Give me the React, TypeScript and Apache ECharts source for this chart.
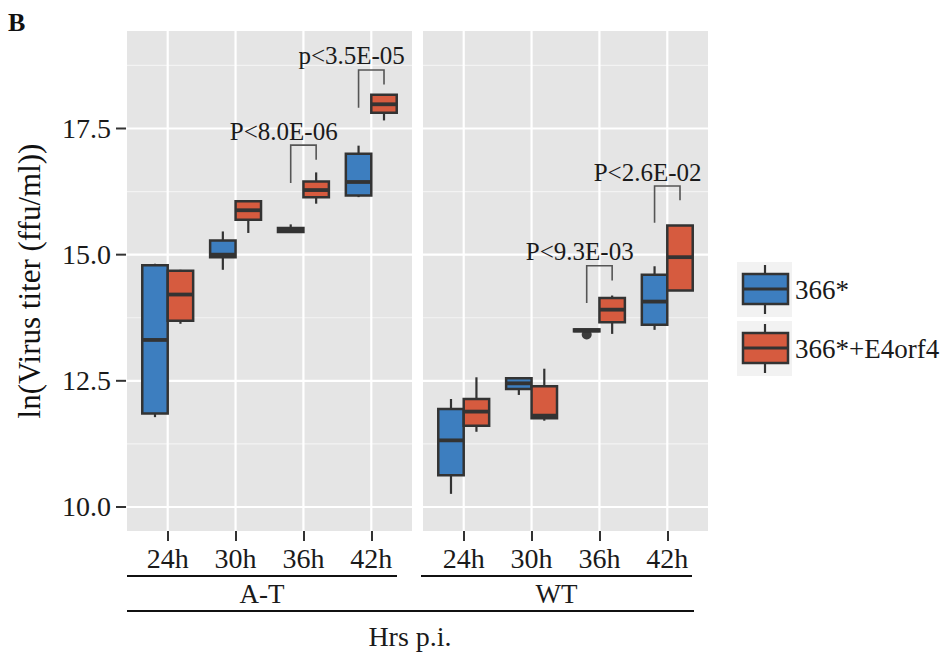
import React, { useEffect, useRef } from 'react';
import * as echarts from 'echarts';

const FONT = '"Liberation Serif", "Times New Roman", Times, serif';

const timePoints = ['24h', '30h', '36h', '42h'];
const panelNames = ['A-T', 'WT'];
const groupNames = ['366*', '366*+E4orf4'];
const groupColors = ['#3D7EBF', '#D65B3F'];
const yTickValues = [10, 12.5, 15, 17.5];
const yMinorGridValues = [11.25, 13.75, 16.25, 18.75];
const xAxisTitle = 'Hrs p.i.';
const yAxisTitle = 'ln(Virus titer (ffu/ml))';
const figureTag = 'B';

// box stats: [low whisker, Q1, median, Q3, high whisker]
const atMutant = [
  [11.78, 11.85, 13.31, 14.79, 14.82],
  [14.70, 14.95, 15.00, 15.28, 15.46],
  [15.43, 15.45, 15.49, 15.53, 15.60],
  [16.14, 16.17, 16.44, 17.00, 17.16],
];
const atE4orf4 = [
  [13.63, 13.69, 14.21, 14.68, 14.70],
  [15.43, 15.69, 15.88, 16.06, 16.06],
  [16.01, 16.14, 16.28, 16.45, 16.63],
  [17.66, 17.81, 17.98, 18.17, 18.17],
];
const wtMutant = [
  [10.26, 10.63, 11.32, 11.94, 12.14],
  [12.22, 12.34, 12.45, 12.55, 12.55],
  [13.48, 13.48, 13.50, 13.52, 13.52],
  [13.51, 13.61, 14.07, 14.60, 14.77],
];
const wtE4orf4 = [
  [11.49, 11.61, 11.89, 12.14, 12.57],
  [11.71, 11.76, 11.81, 12.39, 12.74],
  [13.43, 13.66, 13.91, 14.14, 14.19],
  [14.29, 14.29, 14.95, 15.58, 15.58],
];
// outliers: [time index, value]
const wtMutantOutliers = [[2, 13.42]];
const atMutantOutliers: number[][] = [];

// significance brackets: [time index, bracket top, left leg bottom, right leg bottom]
const atBrackets = [
  [2, 17.17, 16.42, 16.88],
  [3, 18.66, 17.91, 18.37],
];
const atBracketLabels = ['P<8.0E-06', 'p<3.5E-05'];
const wtBrackets = [
  [2, 14.78, 14.04, 14.49],
  [3, 16.36, 15.63, 16.08],
];
const wtBracketLabels = ['P<9.3E-03', 'P<2.6E-02'];

const panelBoxes = [
  [atMutant, atE4orf4],
  [wtMutant, wtE4orf4],
];
const panelOutliers = [atMutantOutliers, wtMutantOutliers];
const panelBrackets = [atBrackets, wtBrackets];
const panelBracketLabels = [atBracketLabels, wtBracketLabels];

const DODGE = 0.1875;
const HALF = 0.1875;
const Y_MIN = 9.524;
const Y_MAX = 19.432;

function buildOption() {
  const grids = [
    { left: 127, top: 31, width: 285, height: 500 },
    { left: 423, top: 31, width: 285, height: 500 },
  ].map((g) => ({ ...g, show: true, backgroundColor: '#E5E5E5', borderWidth: 0 }));

  const xAxes = panelNames.map((_, p) => ({
    type: 'value',
    gridIndex: p,
    min: -0.6,
    max: 3.6,
    axisLine: { show: false, onZero: false },
    splitLine: { show: false },
    axisTick: {
      show: true,
      customValues: timePoints.map((_, i) => i),
      length: 10,
      lineStyle: { color: '#333', width: 2 },
    },
    axisLabel: {
      show: true,
      customValues: timePoints.map((_, i) => i),
      formatter: (v: number) => timePoints[Math.round(v)] ?? '',
      margin: 13,
      fontSize: 28,
      fontFamily: FONT,
      color: '#1a1a1a',
    },
  }));

  const yAxes = panelNames.map((_, p) => ({
    type: 'value',
    gridIndex: p,
    min: Y_MIN,
    max: Y_MAX,
    axisLine: { show: false, onZero: false },
    splitLine: { show: false },
    axisTick: { show: false },
    axisLabel: {
      show: p === 0,
      customValues: yTickValues,
      formatter: (v: number) => v.toFixed(1),
      margin: 16,
      fontSize: 28,
      fontFamily: FONT,
      color: '#1a1a1a',
    },
    name: p === 0 ? yAxisTitle : '',
    nameLocation: 'middle',
    nameGap: 82,
    nameTextStyle: { fontSize: 31, fontFamily: FONT, color: '#111' },
  }));

  const series: any[] = [];
  panelNames.forEach((_, p) => {
    // kinds: 0 major horizontal grid, 1 minor horizontal grid, 2 vertical grid, 3 y-axis tick mark
    const gridData = [
      ...yTickValues.map((v) => [0, v, 0]),
      ...yMinorGridValues.map((v) => [0, v, 1]),
      ...timePoints.map((_, i) => [i, 10, 2]),
      ...(p === 0 ? yTickValues.map((v) => [0, v, 3]) : []),
    ];
    series.push({
      type: 'custom',
      xAxisIndex: p,
      yAxisIndex: p,
      z: 1,
      silent: true,
      clip: false,
      data: gridData,
      encode: { x: 0, y: 1 },
      renderItem: (params: any, api: any) => {
        const kind = api.value(2);
        const cs = params.coordSys;
        if (kind === 2) {
          const px = api.coord([api.value(0), 10])[0];
          return {
            type: 'line',
            shape: { x1: px, y1: cs.y, x2: px, y2: cs.y + cs.height },
            style: { stroke: '#FFFFFF', lineWidth: 2.2 },
          };
        }
        const py = api.coord([0, api.value(1)])[1];
        if (kind === 3) {
          return {
            type: 'line',
            shape: { x1: cs.x - 11, y1: py, x2: cs.x - 1, y2: py },
            style: { stroke: '#333', lineWidth: 2 },
          };
        }
        return {
          type: 'line',
          shape: { x1: cs.x, y1: py, x2: cs.x + cs.width, y2: py },
          style: { stroke: kind === 0 ? '#FFFFFF' : '#F3F3F3', lineWidth: kind === 0 ? 2.2 : 1.2 },
        };
      },
    });

    if (panelOutliers[p].length) {
      series.push({
        type: 'scatter',
        xAxisIndex: p,
        yAxisIndex: p,
        z: 2,
        silent: true,
        symbol: 'circle',
        symbolSize: 10,
        itemStyle: { color: '#111' },
        data: panelOutliers[p].map((d) => [d[0] - DODGE, d[1]]),
      });
    }

    panelBoxes[p].forEach((stats, g) => {
      const dodge = g === 0 ? -DODGE : DODGE;
      const color = groupColors[g];
      series.push({
        type: 'custom',
        name: groupNames[g],
        xAxisIndex: p,
        yAxisIndex: p,
        z: 3,
        silent: true,
        data: stats.map((s, i) => [i, ...s]),
        encode: { x: 0, y: [1, 2, 3, 4, 5] },
        renderItem: (params: any, api: any) => {
          const xc = api.value(0) + dodge;
          const lo = api.value(1);
          const q1 = api.value(2);
          const md = api.value(3);
          const q3 = api.value(4);
          const hi = api.value(5);
          const [xl, yq3] = api.coord([xc - HALF, q3]);
          const [xr, yq1] = api.coord([xc + HALF, q1]);
          const [xm, ymd] = api.coord([xc, md]);
          const yhi = api.coord([xc, hi])[1];
          const ylo = api.coord([xc, lo])[1];
          return {
            type: 'group',
            children: [
              { type: 'line', shape: { x1: xm, y1: yhi, x2: xm, y2: yq3 }, style: { stroke: '#333', lineWidth: 2.2 } },
              { type: 'line', shape: { x1: xm, y1: yq1, x2: xm, y2: ylo }, style: { stroke: '#333', lineWidth: 2.2 } },
              {
                type: 'rect',
                shape: { x: xl, y: yq3, width: xr - xl, height: yq1 - yq3 },
                style: { fill: color, stroke: '#333', lineWidth: 2.5 },
              },
              { type: 'line', shape: { x1: xl, y1: ymd, x2: xr, y2: ymd }, style: { stroke: '#333', lineWidth: 3.8 } },
            ],
          };
        },
      });
    });

    const labels = panelBracketLabels[p];
    series.push({
      type: 'custom',
      xAxisIndex: p,
      yAxisIndex: p,
      z: 4,
      silent: true,
      data: panelBrackets[p],
      encode: { x: 0, y: [1, 2, 3] },
      renderItem: (params: any, api: any) => {
        const xi = api.value(0);
        const top = api.value(1);
        const lb = api.coord([xi - DODGE, api.value(2)]);
        const lt = api.coord([xi - DODGE, top]);
        const rt = api.coord([xi + DODGE, top]);
        const rb = api.coord([xi + DODGE, api.value(3)]);
        const tp = api.coord([xi - 0.29, top]);
        return {
          type: 'group',
          children: [
            {
              type: 'polyline',
              shape: { points: [lb, lt, rt, rb] },
              style: { stroke: '#555', lineWidth: 1.6, fill: 'none' },
            },
            {
              type: 'text',
              x: tp[0],
              y: tp[1] - 14,
              style: {
                text: labels[params.dataIndex],
                fontSize: 25,
                fontFamily: FONT,
                fill: '#1a1a1a',
                align: 'center',
                verticalAlign: 'middle',
              },
            },
          ],
        };
      },
    });
  });

  const legendKeys = groupNames.map((name, g) => {
    const top = 262 + g * 59;
    return {
      type: 'group',
      children: [
        { type: 'rect', shape: { x: 737, y: top, width: 55, height: 55 }, style: { fill: '#F2F2F2' } },
        { type: 'line', shape: { x1: 765, y1: top + 3, x2: 765, y2: top + 52 }, style: { stroke: '#333', lineWidth: 2.2 } },
        {
          type: 'rect',
          shape: { x: 743, y: top + 12, width: 45, height: 30 },
          style: { fill: groupColors[g], stroke: '#333', lineWidth: 2.5 },
        },
        { type: 'line', shape: { x1: 743, y1: top + 27, x2: 788, y2: top + 27 }, style: { stroke: '#333', lineWidth: 3 } },
        {
          type: 'text',
          x: 795,
          y: top + 28,
          style: { text: name, fontSize: 27, fontFamily: FONT, fill: '#1a1a1a', align: 'left', verticalAlign: 'middle' },
        },
      ],
    };
  });

  const stripLines = [
    { x1: 127, x2: 397 },
    { x1: 421, x2: 692 },
  ];
  const panelStrips = panelNames.map((name, p) => ({
    type: 'group',
    children: [
      {
        type: 'line',
        shape: { x1: stripLines[p].x1, y1: 576, x2: stripLines[p].x2, y2: 576 },
        style: { stroke: '#111', lineWidth: 2.2 },
      },
      {
        type: 'text',
        x: (stripLines[p].x1 + stripLines[p].x2) / 2,
        y: 594,
        style: { text: name, fontSize: 27, fontFamily: FONT, fill: '#1a1a1a', align: 'center', verticalAlign: 'middle' },
      },
    ],
  }));

  const graphic = [
    {
      type: 'group',
      children: [
        {
          type: 'text',
          x: 8,
          y: 9,
          style: {
            text: figureTag,
            fontSize: 26,
            fontWeight: 'bold',
            fontFamily: FONT,
            fill: '#111',
            align: 'left',
            verticalAlign: 'top',
          },
        },
      ],
    },
    ...legendKeys,
    ...panelStrips,
    { type: 'line', shape: { x1: 127, y1: 611, x2: 694, y2: 611 }, style: { stroke: '#111', lineWidth: 2.2 } },
    {
      type: 'text',
      x: 410,
      y: 636,
      style: { text: xAxisTitle, fontSize: 28, fontFamily: FONT, fill: '#1a1a1a', align: 'center', verticalAlign: 'middle' },
    },
  ];

  return {
    animation: false,
    backgroundColor: '#FFFFFF',
    grid: grids,
    xAxis: xAxes,
    yAxis: yAxes,
    series,
    graphic,
  };
}

export default function App() {
  const ref = useRef<HTMLDivElement>(null);
  useEffect(() => {
    if (!ref.current) return;
    const chart = echarts.init(ref.current, undefined, { renderer: 'svg' });
    chart.setOption(buildOption() as any);
    return () => chart.dispose();
  }, []);
  return (
    <div
      ref={ref}
      style={{ position: 'absolute', left: 0, top: 0, width: 943, height: 652, background: '#fff' }}
    />
  );
}
